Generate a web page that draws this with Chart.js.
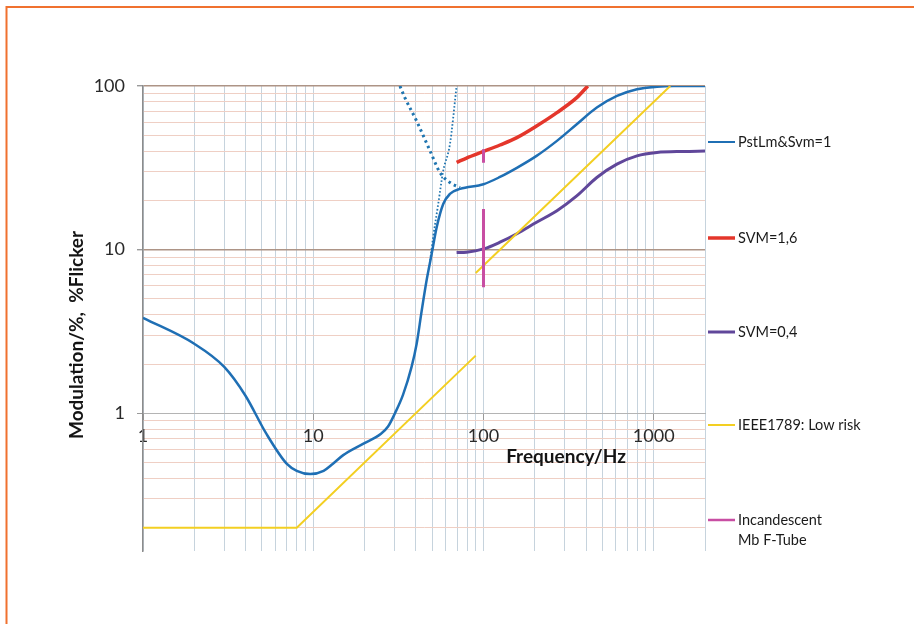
<!DOCTYPE html>
<html>
<head>
<meta charset="utf-8">
<title>Modulation vs frequency</title>
<script src="https://cdn.jsdelivr.net/npm/chart.js@4.4.1/dist/chart.umd.min.js"></script>
<style>
    html, body { margin: 0; padding: 0; background: #fff; }
    #wrap { position: relative; width: 914px; height: 624px; }
</style>
</head>
<body>
<div id="wrap"><canvas id="flickerChart"></canvas></div>
<script>
// PstLm&Svm=1 (solid blue)
const pstFreq = [1, 2, 3, 4, 5.3, 7, 8, 9.6, 11.5, 13, 15, 19.6, 25, 27.5, 30.2, 33.7, 37.8, 40.5, 43.3, 46.3, 49.6, 53.1, 58, 63.5, 72.8, 100, 125, 157, 205, 270, 353, 463, 608, 797, 1044, 1300, 2000];
const pstMod = [3.83, 2.66, 1.92, 1.28, 0.75, 0.49, 0.445, 0.425, 0.445, 0.49, 0.555, 0.65, 0.75, 0.83, 1.0, 1.3, 1.92, 2.66, 4.2, 6.47, 9.4, 13.7, 19, 21.9, 23.5, 25.1, 27.8, 31.6, 37.4, 46.2, 58.4, 73.8, 86.9, 95.5, 99, 100, 100];

// dotted blue branches near 50 Hz
const branchAFreq = [32.3, 34.5, 40.5, 48.6, 55.5, 63.5, 72.8];
const branchAMod = [100, 85, 61, 40, 29.6, 25.7, 24];
const branchBFreq = [48.6, 50.6, 54.2, 58, 63.5, 69.5];
const branchBMod = [8.6, 11.9, 19, 30.3, 44, 100];

// SVM=1,6 (red)
const svm16Freq = [69.5, 79.5, 100, 125, 157, 205, 270, 353, 410];
const svm16Mod = [34.1, 36.3, 39.8, 43.6, 48.4, 57, 68.8, 84.9, 100];

// SVM=0,4 (purple)
const svm04Freq = [69.5, 79.5, 100, 125, 157, 205, 270, 353, 463, 608, 797, 1044, 1500, 2000];
const svm04Mod = [9.6, 9.65, 10.1, 11.1, 12.5, 14.7, 17.3, 21.3, 27.6, 33.3, 37.4, 39.2, 39.8, 40];

// IEEE1789 low risk (two pieces, gap at 90 Hz)
const ieeeFreq = [1, 8, 90, 90, 90, 1250];
const ieeeMod = [0.2, 0.2, 2.25, null, 7.2, 100];

// Incandescent / Mb F-Tube bars at 100 Hz
const incFreq = [100, 100, 100, 100, 100];
const incMod = [41, 34, null, 17.7, 5.9];

// axes
const xGridValues = [1, 2, 3, 4, 5, 6, 7, 8, 9, 10, 20, 30, 40, 50, 60, 70, 80, 90, 100, 200, 300, 400, 500, 600, 700, 800, 900, 1000, 2000];
const xLabelValues = [1, 10, 100, 1000];
const yGridValues = [0.2, 0.3, 0.4, 0.5, 0.6, 0.7, 0.8, 0.9, 1, 2, 3, 4, 5, 6, 7, 8, 9, 10, 20, 30, 40, 50, 60, 70, 80, 90, 100];
const yLabelValues = [1, 10, 100];

const xTitle = 'Frequency/Hz';
const yTitle = 'Modulation/%,  %Flicker';

function toPoints(xs, ys) {
    return xs.map((x, i) => ({ x: x, y: ys[i] }));
}

// legend rows on the right
const legendRows = [142, 238, 332, 425, 520];

const decorations = {
    id: 'decorations',
    beforeDraw(chart) {
        const ctx = chart.ctx;
        ctx.save();
        ctx.strokeStyle = '#f0712f';
        ctx.lineWidth = 2;
        ctx.beginPath();
        ctx.moveTo(6.5, 624);
        ctx.lineTo(6.5, 7);
        ctx.lineTo(914, 7);
        ctx.stroke();
        ctx.restore();
    },
    afterDraw(chart) {
        const ctx = chart.ctx;
        ctx.save();
        ctx.fillStyle = '#141414';
        ctx.font = 'bold 19px Lato';
        ctx.textAlign = 'center';
        ctx.textBaseline = 'middle';
        ctx.fillText(xTitle, 566, 457);
        ctx.translate(77, 335);
        ctx.rotate(-Math.PI / 2);
        ctx.fillText(yTitle, 0, 0);
        ctx.restore();

        // legend
        ctx.save();
        ctx.font = '14.5px Lato';
        ctx.textAlign = 'left';
        ctx.textBaseline = 'middle';
        let row = 0;
        chart.data.datasets.forEach((ds) => {
            if (!ds.label) return;
            const y = legendRows[row++];
            ctx.strokeStyle = ds.borderColor;
            ctx.lineWidth = ds.legendWidth;
            ctx.beginPath();
            ctx.moveTo(708, y);
            ctx.lineTo(735, y);
            ctx.stroke();
            ctx.fillStyle = '#1a1a1a';
            ds.label.split('\n').forEach((line, i) => {
                ctx.fillText(line, 738, y + i * 20);
            });
        });
        ctx.restore();
    }
};

function drawChart() {
    const ctx = document.getElementById('flickerChart').getContext('2d');
    new Chart(ctx, {
        type: 'line',
        data: {
            datasets: [
                {
                    label: 'PstLm&Svm=1',
                    data: toPoints(pstFreq, pstMod),
                    borderColor: '#1f6fb4',
                    borderWidth: 2.5,
                    legendWidth: 2,
                    cubicInterpolationMode: 'monotone',
                    order: 2
                },
                {
                    label: 'SVM=1,6',
                    data: toPoints(svm16Freq, svm16Mod),
                    borderColor: '#e4362b',
                    borderWidth: 3.5,
                    legendWidth: 3.5,
                    cubicInterpolationMode: 'monotone',
                    order: 2
                },
                {
                    label: 'SVM=0,4',
                    data: toPoints(svm04Freq, svm04Mod),
                    borderColor: '#60479a',
                    borderWidth: 3,
                    legendWidth: 3,
                    cubicInterpolationMode: 'monotone',
                    order: 2
                },
                {
                    label: 'IEEE1789: Low risk',
                    data: toPoints(ieeeFreq, ieeeMod),
                    borderColor: '#f3cf22',
                    borderWidth: 2,
                    legendWidth: 2,
                    tension: 0,
                    order: 1
                },
                {
                    label: 'Incandescent\nMb F-Tube',
                    data: toPoints(incFreq, incMod),
                    borderColor: '#c84ea3',
                    borderWidth: 3,
                    legendWidth: 2.5,
                    tension: 0,
                    order: 0
                },
                {
                    data: toPoints(branchAFreq, branchAMod),
                    borderColor: '#1f75b0',
                    borderWidth: 3,
                    borderDash: [2.5, 3.5],
                    cubicInterpolationMode: 'monotone',
                    order: 3
                },
                {
                    data: toPoints(branchBFreq, branchBMod),
                    borderColor: '#1f75b0',
                    borderWidth: 1.8,
                    borderDash: [1.6, 2],
                    cubicInterpolationMode: 'monotone',
                    order: 3
                }
            ]
        },
        options: {
            responsive: true,
            maintainAspectRatio: false,
            animation: false,
            layout: { padding: { left: 0, right: 209, top: 86, bottom: 73 } },
            elements: { point: { radius: 0 } },
            plugins: {
                legend: { display: false },
                tooltip: { enabled: false }
            },
            scales: {
                x: {
                    type: 'logarithmic',
                    min: 1,
                    max: 2000,
                    position: { y: 1 },
                    afterBuildTicks: (s) => { s.ticks = xGridValues.map(v => ({ value: v })); },
                    ticks: {
                        autoSkip: false,
                        maxRotation: 0,
                        padding: 6,
                        color: '#2a2a2a',
                        font: { family: 'Lato', size: 18 },
                        callback: (v) => xLabelValues.includes(v) ? String(v) : ''
                    },
                    grid: {
                        color: '#c6d3dd',
                        lineWidth: 1,
                        tickLength: 6,
                        tickColor: (c) => (c.tick && xLabelValues.includes(c.tick.value)) ? '#9a9a9a' : 'rgba(0,0,0,0)'
                    },
                    border: { display: true, color: '#b4b4b4', width: 1 }
                },
                y: {
                    type: 'logarithmic',
                    min: 0.144,
                    max: 100,
                    afterBuildTicks: (s) => { s.ticks = yGridValues.map(v => ({ value: v })); },
                    afterFit: (s) => { s.width = 143; },
                    ticks: {
                        autoSkip: false,
                        padding: 12,
                        color: '#2a2a2a',
                        font: { family: 'Lato', size: 18 },
                        callback: (v) => yLabelValues.includes(v) ? String(v) : ''
                    },
                    grid: {
                        color: (c) => (c.tick && (c.tick.value === 10 || c.tick.value === 100)) ? '#ad9486' : '#efcfc4',
                        lineWidth: (c) => (c.tick && (c.tick.value === 10 || c.tick.value === 100)) ? 1.4 : 1,
                        tickLength: 6,
                        tickColor: (c) => (c.tick && yLabelValues.includes(c.tick.value)) ? '#9a9a9a' : 'rgba(0,0,0,0)'
                    },
                    border: { display: true, color: '#8c8c8c', width: 1.5 }
                }
            }
        },
        plugins: [decorations]
    });
}

Promise.all([
    document.fonts.load('18px Lato'),
    document.fonts.load('bold 19px Lato'),
    document.fonts.load('14.5px Lato')
]).then(drawChart, drawChart);
</script>
</body>
</html>
